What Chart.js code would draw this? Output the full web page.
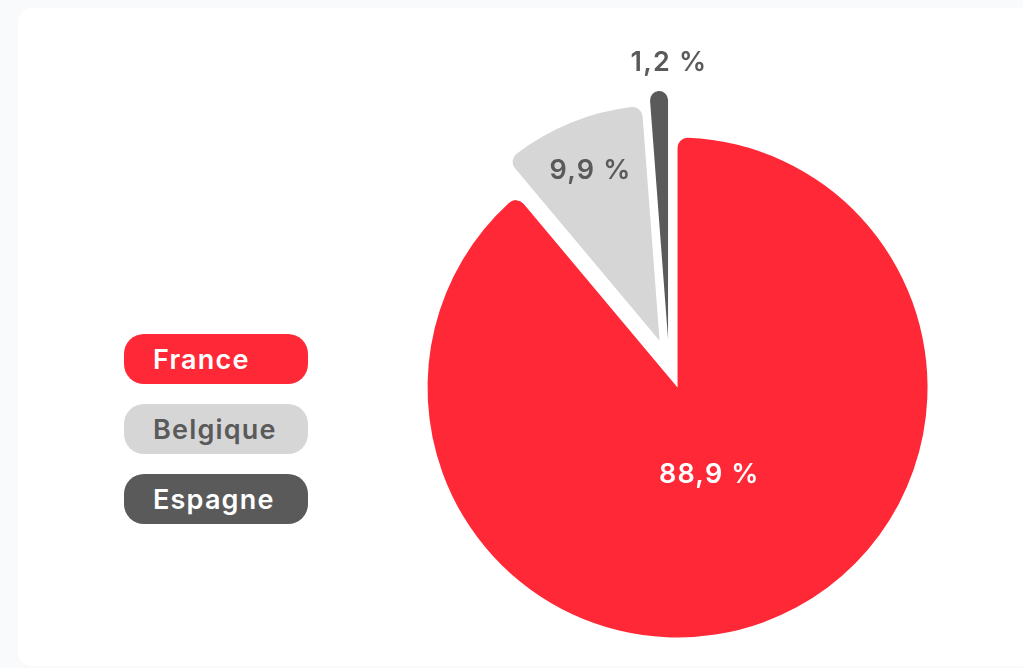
<!DOCTYPE html>
<html>
<head>
<meta charset="utf-8">
<script src="https://cdn.jsdelivr.net/npm/chart.js@4.4.1/dist/chart.umd.min.js"></script>
<style>
  html, body { margin: 0; padding: 0; }
  body { width: 1023px; height: 668px; background: #f9fafc; position: relative; overflow: hidden; font-family: Inter, "Noto Sans", sans-serif; }
  .card { position: absolute; left: 18px; top: 8px; right: -20px; bottom: 2px; background: #fff; border-radius: 14px; }
  #chartBox { position: absolute; left: 319px; top: 14px; width: 700px; height: 700px; }
  #legend { position: absolute; left: 124px; top: 334px; }
  .pill { width: 184px; height: 50px; border-radius: 20px; margin-bottom: 20px; box-sizing: border-box; padding-left: 29px; line-height: 52px; font-size: 27px; font-weight: 600; letter-spacing: 1.2px; }
</style>
</head>
<body>
<div class="card"></div>
<div id="legend"></div>
<div id="chartBox"><canvas id="pieChart"></canvas></div>
<script>
// Données
var labels = ['France', 'Belgique', 'Espagne'];
var datas = [88.9, 9.9, 1.2];
var colors = ['#ff2837', '#d6d6d6', '#5a5a5a'];
var textColors = ['#ffffff', '#5a5a5a', '#ffffff'];
var valueColors = ['#ffffff', '#5a5a5a', '#5a5a5a'];

/* Parts écartées du centre (sans amincir les petites parts) */
var explode = {
    id: 'explode',
    afterDatasetsUpdate: function (chart, args, opts) {
        var meta = chart.getDatasetMeta(0);
        meta.data.forEach(function (arc) {
            var mid = (arc.startAngle + arc.endAngle) / 2;
            var fix = 1 - Math.sin(Math.min(Math.PI, arc.circumference));
            arc.x += Math.cos(mid) * opts.distance;
            arc.y += Math.sin(mid) * opts.distance;
            arc.outerRadius += opts.distance * fix;
        });
    }
};

/* Étiquettes des valeurs */
var valueLabels = {
    id: 'valueLabels',
    afterDatasetsDraw: function (chart, args, opts) {
        var ctx = chart.ctx;
        var area = chart.chartArea;
        var cx = (area.left + area.right) / 2;
        var cy = (area.top + area.bottom) / 2;
        var meta = chart.getDatasetMeta(0);
        ctx.save();
        ctx.font = '600 27px Inter, "Noto Sans", sans-serif';
        ctx.letterSpacing = '1.2px';
        ctx.textAlign = 'center';
        ctx.textBaseline = 'middle';
        meta.data.forEach(function (arc, i) {
            var mid = (arc.startAngle + arc.endAngle) / 2;
            if (datas[i] < 5) mid = -Math.PI / 2; // petite part : étiquette au-dessus
            var r = opts.radius[i];
            var txt = datas[i].toFixed(1).replace('.', ',') + ' %';
            ctx.fillStyle = valueColors[i];
            ctx.fillText(txt, cx + Math.cos(mid) * r, cy + Math.sin(mid) * r);
        });
        ctx.restore();
    }
};

// Tạo biểu đồ tròn
var ctx = document.getElementById('pieChart').getContext('2d');
var pieChart = new Chart(ctx, {
    type: 'pie',
    data: {
        labels: labels,
        datasets: [{
            data: datas,
            backgroundColor: colors,
            borderWidth: 0,
            borderRadius: 10
        }]
    },
    options: {
        responsive: true,
        maintainAspectRatio: false,
        animation: false,
        radius: 225,
        layout: { padding: 0 },
        plugins: {
            legend: { display: false },
            tooltip: { enabled: false },
            explode: { distance: 25 },
            valueLabels: { radius: [118, 208, 301] }
        }
    },
    plugins: [explode, valueLabels]
});

// Légende HTML
var legend = document.getElementById('legend');
labels.forEach(function (name, i) {
    var d = document.createElement('div');
    d.className = 'pill';
    d.style.background = colors[i];
    d.style.color = textColors[i];
    d.textContent = name;
    legend.appendChild(d);
});
</script>
</body>
</html>
